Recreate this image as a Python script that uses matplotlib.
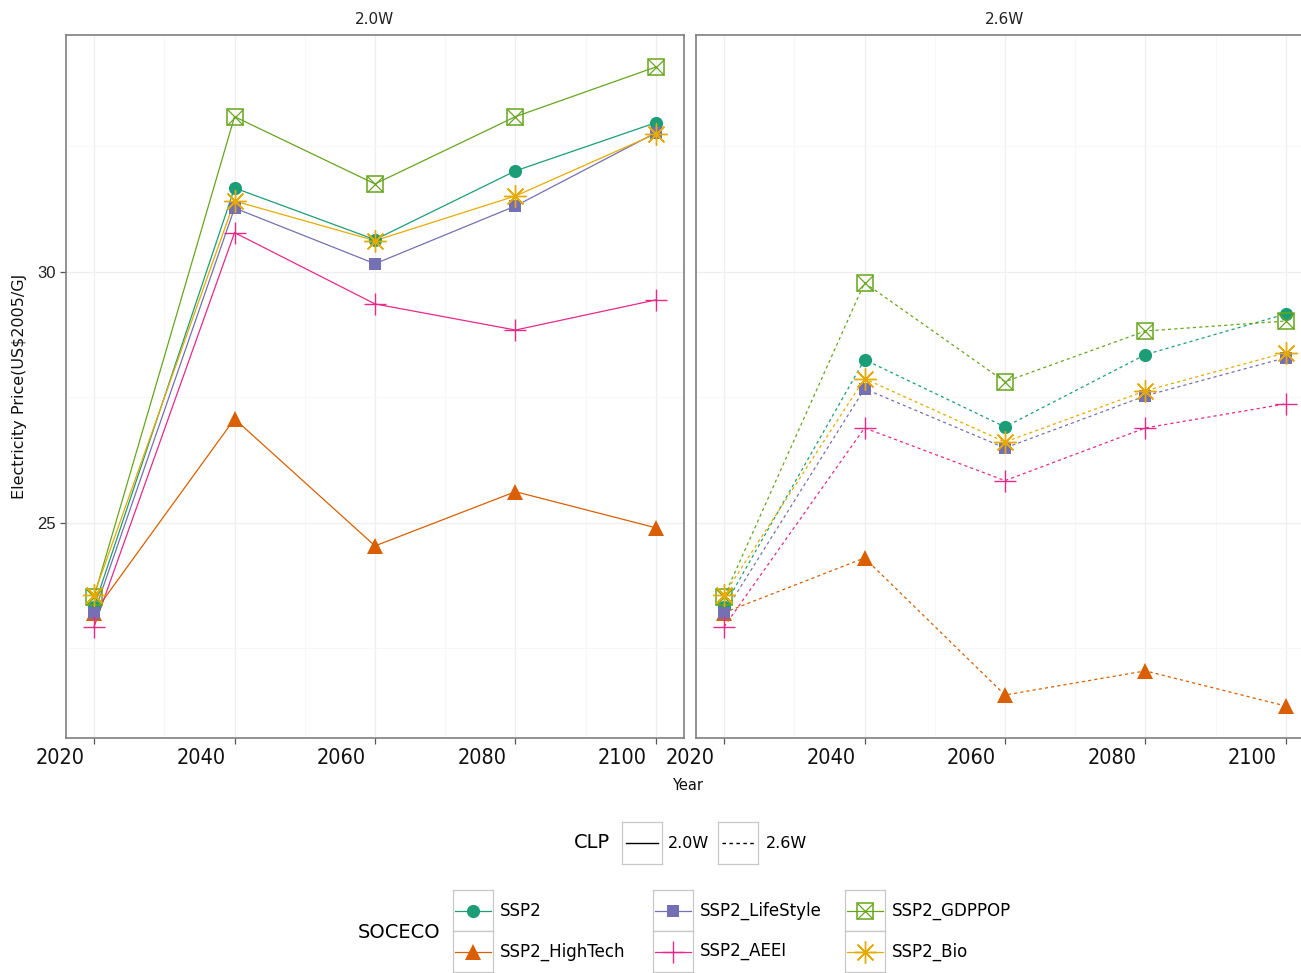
import matplotlib
matplotlib.use("Agg")
import matplotlib.pyplot as plt
from matplotlib import font_manager
from matplotlib.font_manager import FontProperties
from matplotlib.transforms import ScaledTranslation

# scenario data: electricity price (US$2005/GJ) by year
years = [2020, 2040, 2060, 2080, 2100]
soceco = ["SSP2", "SSP2_HighTech", "SSP2_LifeStyle", "SSP2_AEEI", "SSP2_GDPPOP", "SSP2_Bio"]
clp = ["2.0W", "2.6W"]

ssp2_20w = [23.33, 31.67, 30.64, 32.01, 32.97]
hightech_20w = [23.21, 27.07, 24.54, 25.62, 24.90]
lifestyle_20w = [23.20, 31.27, 30.16, 31.31, 32.77]
aeei_20w = [22.93, 30.78, 29.36, 28.84, 29.44]
gdppop_20w = [23.53, 33.09, 31.75, 33.09, 34.08]
bio_20w = [23.57, 31.41, 30.62, 31.51, 32.75]

ssp2_26w = [23.33, 28.25, 26.91, 28.35, 29.16]
hightech_26w = [23.21, 24.30, 21.57, 22.05, 21.35]
lifestyle_26w = [23.20, 27.67, 26.49, 27.53, 28.29]
aeei_26w = [22.93, 26.89, 25.84, 26.89, 27.37]
gdppop_26w = [23.53, 29.78, 27.81, 28.82, 29.02]
bio_26w = [23.57, 27.87, 26.61, 27.63, 28.39]

prices = {
    "2.0W": [ssp2_20w, hightech_20w, lifestyle_20w, aeei_20w, gdppop_20w, bio_20w],
    "2.6W": [ssp2_26w, hightech_26w, lifestyle_26w, aeei_26w, gdppop_26w, bio_26w],
}

# Dark2 palette, ggplot shapes 16, 17, 15, 3, 7, 8
colors = ["#1B9E77", "#D95F02", "#7570B3", "#E7298A", "#66A61E", "#E6AB02"]
linestyles = {"2.0W": "-", "2.6W": (0, (2.5, 2.5))}

plt.rcParams["font.family"] = ["DejaVu Sans"]


def condensed_font(size):
    # narrow face for the year labels, whichever is installed
    fonts = font_manager.fontManager.ttflist
    picks = [f for f in fonts if f.name == "Liberation Sans Narrow" and f.weight in (400, "normal")]
    picks += [f for f in fonts if f.name == "DejaVu Sans" and f.stretch == "condensed"
              and f.weight in (400, "normal") and f.style == "normal"]
    picks += [f for f in fonts if "Condensed" in f.name and f.style == "normal"]
    if picks:
        return FontProperties(fname=picks[0].fname, size=size)
    return FontProperties(family="Liberation Sans", size=size - 2.5)


year_font = condensed_font(15.5)

W, H = 1301, 973
fig = plt.figure(figsize=(W / 100, H / 100), dpi=100)


def box(x0, y0, x1, y1):
    return [x0 / W, 1 - y1 / H, (x1 - x0) / W, (y1 - y0) / H]


def draw_marker(ax, x, y, i, scale=1.0, clip=False):
    c = colors[i]
    kw = dict(ls="none", clip_on=clip, zorder=3)
    if i == 0:
        ax.plot(x, y, marker="o", ms=9.5 * scale, mfc=c, mec=c, mew=0, **kw)
    elif i == 1:
        ax.plot(x, y, marker="^", ms=11 * scale, mfc=c, mec=c, mew=0, **kw)
    elif i == 2:
        ax.plot(x, y, marker="s", ms=9 * scale, mfc=c, mec=c, mew=0, **kw)
    elif i == 3:
        ax.plot(x, y, marker="+", ms=16 * scale, mec=c, mew=1.0, **kw)
    elif i == 4:
        ax.plot(x, y, marker="s", ms=11.5 * scale, mfc="none", mec=c, mew=1.1, **kw)
        ax.plot(x, y, marker="x", ms=11.5 * scale, mec=c, mew=0.9, **kw)
    else:
        ax.plot(x, y, marker=(8, 2, 0), ms=16 * scale, mec=c, mew=1.0, **kw)


all_vals = [v for k in clp for s in prices[k] for v in s]
ylo, yhi = min(all_vals), max(all_vals)
ypad = (yhi - ylo) * 0.05
xpad = (years[-1] - years[0]) * 0.05

panels = {"2.0W": box(66, 35, 684, 738), "2.6W": box(696, 35, 1314, 738)}
shift = ScaledTranslation(-9 / 100, 0, fig.dpi_scale_trans)

for n, key in enumerate(clp):
    ax = fig.add_axes(panels[key])
    ax.set_xlim(years[0] - xpad, years[-1] + xpad)
    ax.set_ylim(ylo - ypad, yhi + ypad)
    ax.set_xticks([2020, 2040, 2060, 2080, 2100])
    ax.set_xticks([2030, 2050, 2070, 2090], minor=True)
    ax.set_yticks([25, 30])
    ax.set_yticks([22.5, 27.5, 32.5], minor=True)
    ax.grid(True, which="major", color="#EFEFEF", lw=0.9)
    ax.grid(True, which="minor", color="#F6F6F6", lw=0.6)
    ax.set_axisbelow(True)
    for sp in ax.spines.values():
        sp.set_color("#7F7F7F")
        sp.set_linewidth(1.2)
    ax.tick_params(which="minor", length=0)
    ax.tick_params(axis="both", which="major", direction="out", length=4,
                   color="#555555", width=0.9)
    for tick in ax.xaxis.get_major_ticks():
        lab = tick.label1
        lab.set_fontproperties(year_font)
        lab.set_color("#111111")
        lab.set_horizontalalignment("right")
        lab.set_transform(lab.get_transform() + shift)
    if n == 0:
        for lab in ax.get_yticklabels():
            lab.set_fontfamily("Liberation Sans")
            lab.set_fontsize(12)
            lab.set_color("#222222")
    else:
        ax.tick_params(axis="y", left=False, labelleft=False)
    ax.set_title(key, fontsize=11, pad=8, color="#222222")

    # lines first, then points on top
    for i, series in enumerate(prices[key]):
        ax.plot(years, series, color=colors[i], lw=0.9, ls=linestyles[key], zorder=2)
    for i, series in enumerate(prices[key]):
        draw_marker(ax, years, series, i)

fig.text(20 / W, 1 - 386 / H, "Electricity Price(US$2005/GJ", rotation=90,
         ha="center", va="center", fontsize=11.5, color="#111111")
fig.text(688 / W, 1 - 785 / H, "Year", ha="center", va="center", fontsize=10.5,
         color="#111111")


def key_axes(x0, y0, x1, y1):
    k = fig.add_axes(box(x0, y0, x1, y1))
    k.set_xlim(0, 1)
    k.set_ylim(0, 1)
    k.set_xticks([])
    k.set_yticks([])
    for sp in k.spines.values():
        sp.set_color("#C8C8C8")
        sp.set_linewidth(0.9)
    return k


# CLP legend
fig.text(610 / W, 1 - 843 / H, "CLP", ha="right", va="center", fontsize=14)
clp_x = [(622, 662, 668), (718, 758, 766)]
for key, (bx0, bx1, tx) in zip(clp, clp_x):
    k = key_axes(bx0, 822, bx1, 864)
    k.plot([0.1, 0.9], [0.5, 0.5], color="black", lw=1.0, ls=linestyles[key])
    fig.text(tx / W, 1 - 843 / H, key, ha="left", va="center", fontsize=11.5)

# SOCECO legend, two rows filled column by column
fig.text(440 / W, 1 - 933 / H, "SOCECO", ha="right", va="center", fontsize=14)
col_x = [(453, 493, 500), (653, 693, 700), (845, 885, 892)]
row_y = [(890, 931), (931, 972)]
for i, name in enumerate(soceco):
    bx0, bx1, tx = col_x[i // 2]
    ry0, ry1 = row_y[i % 2]
    k = key_axes(bx0, ry0, bx1, ry1)
    k.plot([0.05, 0.95], [0.5, 0.5], color=colors[i], lw=0.9)
    draw_marker(k, [0.5], [0.5], i, clip=True)
    fig.text(tx / W, 1 - (ry0 + ry1) / 2 / H, name, ha="left", va="center", fontsize=12)

fig.savefig("out.png", dpi=100)
